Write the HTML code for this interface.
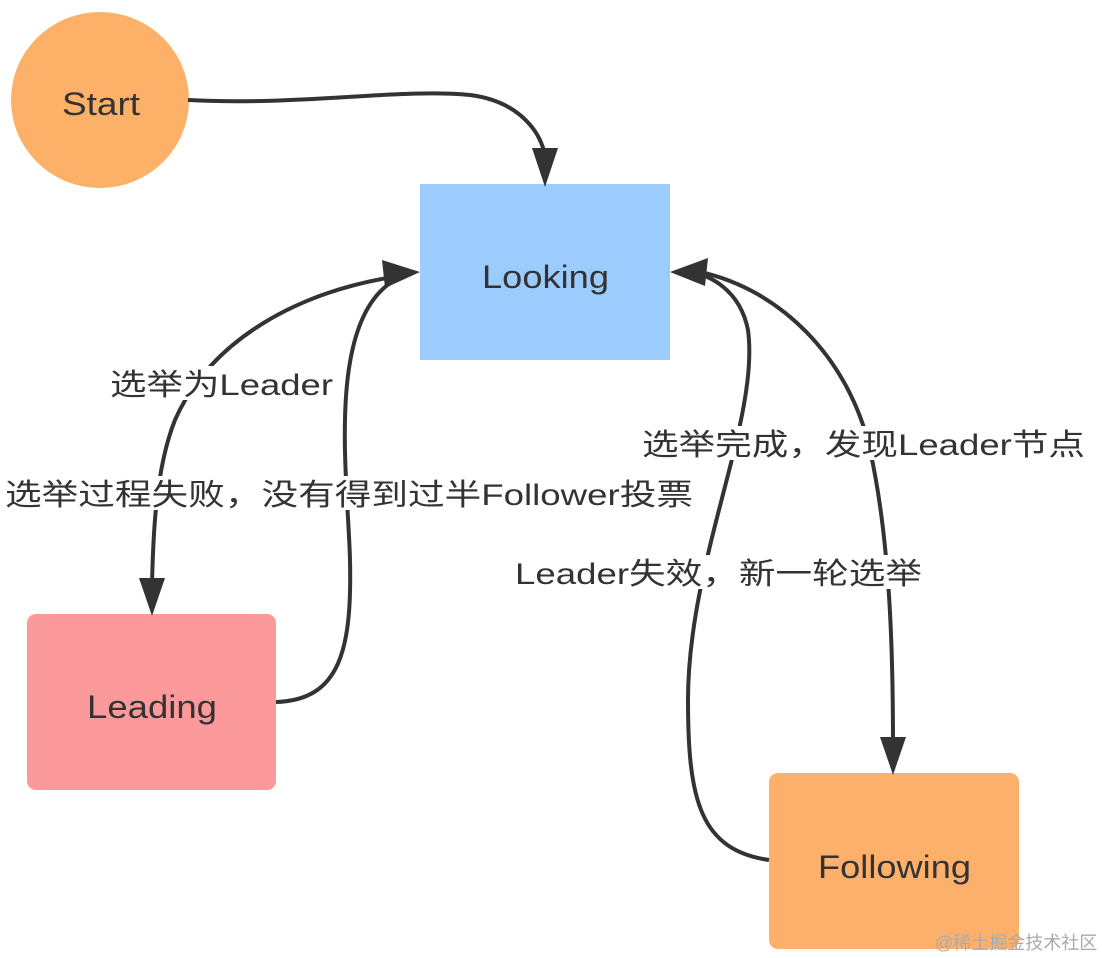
<!DOCTYPE html>
<html><head><meta charset="utf-8"><style>
body{margin:0;background:#fff;}
svg{display:block;}
text{font-family:"Liberation Sans","Noto Sans CJK SC",sans-serif;fill:#333;}
</style></head><body>
<svg width="1102" height="958" viewBox="0 0 1102 958" xmlns="http://www.w3.org/2000/svg">
<ellipse cx="100" cy="100" rx="89" ry="88" fill="#fcb068"/>
<rect x="420" y="184" width="250" height="176" fill="#9ccbfd"/>
<rect x="27" y="614" width="249" height="176" rx="9" fill="#fc999a"/>
<rect x="769" y="773" width="250" height="176" rx="9" fill="#fcb06b"/>
<g fill="none" stroke="#333" stroke-width="4">
<path d="M188,100 C300,106 400,88 470,95 C525,102 545,140 545,160"/>
<path d="M400,276 C300,290 210,340 175,420 C155,470 153,540 152,585"/>
<path d="M276,702 C340,700 352,650 350,560 C348,480 325,320 395,280"/>
<path d="M769,860 C700,850 688,800 688,700 C688,560 760,420 748,330 C740,290 710,275 690,272"/>
<path d="M690,270 C780,285 850,360 870,450 C890,540 893,650 893,745"/>
</g>
<g fill="#333">
<polygon points="545,187 532,148 558,148"/>
<polygon points="420,272 382,260 385,288"/>
<polygon points="152,616 139,578 165,578"/>
<polygon points="670,272 708,258 705,286"/>
<polygon points="893,775 880,737 906,737"/>
</g>
<g font-size="32" lengthAdjust="spacingAndGlyphs">
<text x="62" y="115" textLength="78" lengthAdjust="spacingAndGlyphs">Start</text>
<text x="482" y="288" textLength="127" lengthAdjust="spacingAndGlyphs">Looking</text>
<text x="87" y="718" textLength="130" lengthAdjust="spacingAndGlyphs">Leading</text>
<text x="818" y="878" textLength="153" lengthAdjust="spacingAndGlyphs">Following</text>
</g>
<g font-size="30">
<rect x="108" y="366" width="228" height="34" fill="#fff"/>
<text x="110" y="395" textLength="223" lengthAdjust="spacingAndGlyphs">选举为Leader</text>
<rect x="3" y="476" width="692" height="34" fill="#fff"/>
<text x="5" y="505" textLength="688" lengthAdjust="spacingAndGlyphs">选举过程失败，没有得到过半Follower投票</text>
<rect x="640" y="426" width="447" height="34" fill="#fff"/>
<text x="642" y="455" textLength="443" lengthAdjust="spacingAndGlyphs">选举完成，发现Leader节点</text>
<rect x="513" y="555" width="411" height="34" fill="#fff"/>
<text x="515" y="584" textLength="407" lengthAdjust="spacingAndGlyphs">Leader失效，新一轮选举</text>
</g>
<text x="935" y="949" font-size="18" style="fill:#aaa">@稀土掘金技术社区</text>
</svg>
</body></html>
